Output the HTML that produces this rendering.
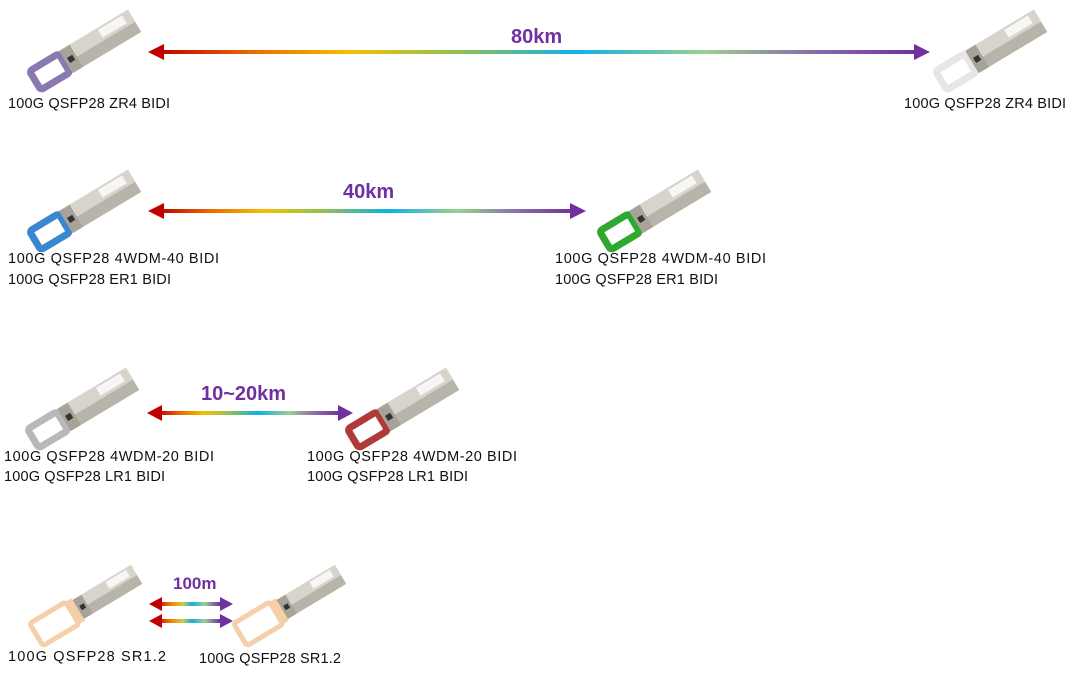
<!DOCTYPE html>
<html><head><meta charset="utf-8"><style>
html,body{margin:0;padding:0;background:#fff;}
svg{display:block;}
text{font-family:"Liberation Sans",sans-serif;}
.l{font-size:14.5px;fill:#111;}
.k{font-size:20px;font-weight:bold;fill:#7030a0;}
</style></head><body>
<svg width="1075" height="673" viewBox="0 0 1075 673" xmlns="http://www.w3.org/2000/svg">
<defs>
<linearGradient id="g" x1="0" x2="1" y1="0" y2="0">
<stop offset="0" stop-color="#c00000"/>
<stop offset="0.12" stop-color="#e86a00"/>
<stop offset="0.25" stop-color="#f5c000"/>
<stop offset="0.4" stop-color="#8cc05a"/>
<stop offset="0.55" stop-color="#10b0e8"/>
<stop offset="0.72" stop-color="#9cd08c"/>
<stop offset="0.86" stop-color="#8a70a8"/>
<stop offset="1" stop-color="#7030a0"/>
</linearGradient>
<linearGradient id="gv" x1="0" x2="1" y1="0" y2="0">
<stop offset="0" stop-color="#c00000"/>
<stop offset="0.2" stop-color="#f08000"/>
<stop offset="0.4" stop-color="#c8d040"/>
<stop offset="0.55" stop-color="#10b0e8"/>
<stop offset="0.75" stop-color="#9cd08c"/>
<stop offset="1" stop-color="#7030a0"/>
</linearGradient>
<g id="body">
<polygon points="0,-13 80,-13 80,13 0,13" fill="#b9b4aa"/>
<polygon points="0,-13 80,-13 80,1 0,1" fill="#d8d4cc"/>
<rect x="44" y="-11" width="28" height="9" fill="#f6f6f4"/>
<rect x="0" y="-13" width="12" height="26" fill="#a8a398"/>
<rect x="3" y="-3" width="6" height="6" fill="#333"/>
</g>
</defs>

<rect x="160" y="50" width="756" height="4" fill="url(#g)"/>
<polygon points="148,52 164,44 164,60" fill="#c00000"/>
<polygon points="930,52 914,44 914,60" fill="#7030a0"/>
<rect x="160" y="209" width="414" height="4" fill="url(#g)"/>
<polygon points="148,211 164,203 164,219" fill="#c00000"/>
<polygon points="586,211 570,203 570,219" fill="#7030a0"/>
<rect x="158" y="411" width="182" height="4" fill="url(#g)"/>
<polygon points="147,413 162,405 162,421" fill="#c00000"/>
<polygon points="353,413 338,405 338,421" fill="#7030a0"/>
<rect x="158" y="602" width="62" height="4" fill="url(#gv)"/>
<polygon points="149,604 162,597 162,611" fill="#c00000"/>
<polygon points="233,604 220,597 220,611" fill="#7030a0"/>
<rect x="158" y="619" width="62" height="4" fill="url(#gv)"/>
<polygon points="149,621 162,614 162,628" fill="#c00000"/>
<polygon points="233,621 220,614 220,628" fill="#7030a0"/>

<text class="k" x="511" y="43">80km</text>
<text class="k" x="343" y="198">40km</text>
<text class="k" x="201" y="400">10~20km</text>
<text class="k" x="173" y="589" style="font-size:17px">100m</text>

<g transform="translate(66,62) rotate(-31)"><rect x="-36" y="-11" width="34" height="22" rx="3" fill="none" stroke="#8a78b0" stroke-width="7"/><use href="#body"/></g>
<g transform="translate(972,62) rotate(-31)"><rect x="-36" y="-11" width="34" height="22" rx="3" fill="none" stroke="#e6e6e6" stroke-width="7"/><use href="#body"/></g>
<g transform="translate(66,222) rotate(-31)"><rect x="-36" y="-11" width="34" height="22" rx="3" fill="none" stroke="#3a86d0" stroke-width="7"/><use href="#body"/></g>
<g transform="translate(636,222) rotate(-31)"><rect x="-36" y="-11" width="34" height="22" rx="3" fill="none" stroke="#2fa830" stroke-width="7"/><use href="#body"/></g>
<g transform="translate(64,420) rotate(-31)"><rect x="-36" y="-11" width="34" height="22" rx="3" fill="none" stroke="#b8b8bc" stroke-width="7"/><use href="#body"/></g>
<g transform="translate(384,420) rotate(-31)"><rect x="-36" y="-11" width="34" height="22" rx="3" fill="none" stroke="#b03a3a" stroke-width="7"/><use href="#body"/></g>
<g transform="translate(74,612) rotate(-31)"><rect x="-44" y="-13" width="42" height="26" rx="3" fill="none" stroke="#f4cfa8" stroke-width="5"/><rect x="-4" y="-13" width="9" height="26" fill="#f4cfa8"/><use href="#body" transform="translate(5,0) scale(0.85)"/></g>
<g transform="translate(278,612) rotate(-31)"><rect x="-44" y="-13" width="42" height="26" rx="3" fill="none" stroke="#f4cfa8" stroke-width="5"/><rect x="-4" y="-13" width="9" height="26" fill="#f4cfa8"/><use href="#body" transform="translate(5,0) scale(0.85)"/></g>

<text class="l" x="8" y="108" textLength="162">100G QSFP28 ZR4 BIDI</text>
<text class="l" x="904" y="108" textLength="162">100G QSFP28 ZR4 BIDI</text>
<text class="l" x="8" y="263" textLength="211">100G QSFP28 4WDM-40 BIDI</text>
<text class="l" x="8" y="284" textLength="163">100G QSFP28 ER1 BIDI</text>
<text class="l" x="555" y="263" textLength="211">100G QSFP28 4WDM-40 BIDI</text>
<text class="l" x="555" y="284" textLength="163">100G QSFP28 ER1 BIDI</text>
<text class="l" x="4" y="461" textLength="210">100G QSFP28 4WDM-20 BIDI</text>
<text class="l" x="4" y="481" textLength="161">100G QSFP28 LR1 BIDI</text>
<text class="l" x="307" y="461" textLength="210">100G QSFP28 4WDM-20 BIDI</text>
<text class="l" x="307" y="481" textLength="161">100G QSFP28 LR1 BIDI</text>
<text class="l" x="8" y="661" textLength="158">100G QSFP28 SR1.2</text>
<text class="l" x="199" y="663" textLength="142">100G QSFP28 SR1.2</text>
</svg>
</body></html>
